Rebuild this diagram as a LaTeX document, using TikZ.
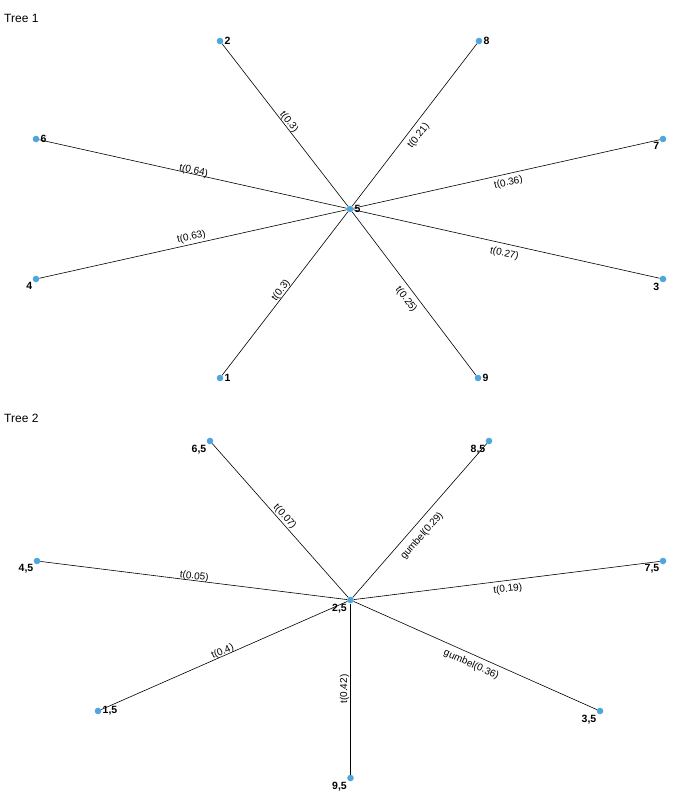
\documentclass[tikz,border=0pt]{standalone}
\usepackage{fontspec}
\setmainfont{Liberation Sans}
\definecolor{dotblue}{RGB}{79,166,222}
\begin{document}
\begin{tikzpicture}[x=1pt,y=-1pt,
 vert/.style={circle,fill=dotblue,inner sep=0pt,minimum size=6.6pt},
 vlbl/.style={font=\fontsize{10.5}{12}\selectfont\bfseries,inner sep=1pt,label distance=0pt},
 elbl/.style={sloped,font=\fontsize{10}{12}\selectfont,inner sep=1pt},
 link/.style={line width=0.6pt}]
 \useasboundingbox (0,0) rectangle (700,800);
 \node[anchor=west,font=\fontsize{12}{14}\selectfont,inner sep=0pt] (title1) at (4,18) {Tree 1};
 \node[vert,label={[vlbl]right:5}] (a5) at (350,209) {};
 \node[vert,label={[vlbl]right:2}] (a2) at (220,41) {};
 \node[vert,label={[vlbl]right:8}] (a8) at (479,41) {};
 \node[vert,label={[vlbl]right:6}] (a6) at (36,139) {};
 \node[vert,label={[vlbl]below left:7}] (a7) at (663,139) {};
 \node[vert,label={[vlbl]below left:4}] (a4) at (36,279) {};
 \node[vert,label={[vlbl]below left:3}] (a3) at (663,279) {};
 \node[vert,label={[vlbl]right:1}] (a1) at (220,378) {};
 \node[vert,label={[vlbl]right:9}] (a9) at (478,378) {};
 \draw[link] (a5) -- node[elbl,above=-1pt] {t(0.3)} (a2);
 \draw[link] (a5) -- node[elbl,pos=0.47,below=4pt] {t(0.21)} (a8);
 \draw[link] (a5) -- node[elbl,above=-3pt] {t(0.64)} (a6);
 \draw[link] (a5) -- node[elbl,below=3pt] {t(0.36)} (a7);
 \draw[link] (a5) -- node[elbl,above=1pt] {t(0.63)} (a4);
 \draw[link] (a5) -- node[elbl,below=4pt] {t(0.27)} (a3);
 \draw[link] (a5) -- node[elbl,above=-1pt] {t(0.3)} (a1);
 \draw[link] (a5) -- node[elbl,below=4pt] {t(0.25)} (a9);
 \node[anchor=west,font=\fontsize{12}{14}\selectfont,inner sep=0pt] (title2) at (4,418) {Tree 2};
 \node[vert,label={[vlbl]below left:{2,5}}] (b2) at (350.5,600) {};
 \node[vert,label={[vlbl]below left:{6,5}}] (b6) at (210,441) {};
 \node[vert,label={[vlbl]below left:{8,5}}] (b8) at (489,441) {};
 \node[vert,label={[vlbl]below left:{4,5}}] (b4) at (37,561) {};
 \node[vert,label={[vlbl]below left:{7,5}}] (b7) at (663,561) {};
 \node[vert,label={[vlbl]right:{1,5}}] (b1) at (98,711) {};
 \node[vert,label={[vlbl]below left:{3,5}}] (b3) at (600,711) {};
 \node[vert,label={[vlbl]below left:{9,5}}] (b9) at (350.5,778) {};
 \draw[link] (b2) -- node[elbl,above=0pt] {t(0.07)} (b6);
 \draw[link] (b2) -- node[elbl,pos=0.45,below=6pt] {gumbel(0.29)} (b8);
 \draw[link] (b2) -- node[elbl,above=-2pt] {t(0.05)} (b4);
 \draw[link] (b2) -- node[elbl,below=3pt] {t(0.19)} (b7);
 \draw[link] (b2) -- node[elbl,above=-2pt] {t(0.4)} (b1);
 \draw[link] (b2) -- node[elbl,below=4pt] {gumbel(0.36)} (b3);
 \draw[link] (b9) -- node[elbl,above=0pt] {t(0.42)} (b2);
\end{tikzpicture}
\end{document}
